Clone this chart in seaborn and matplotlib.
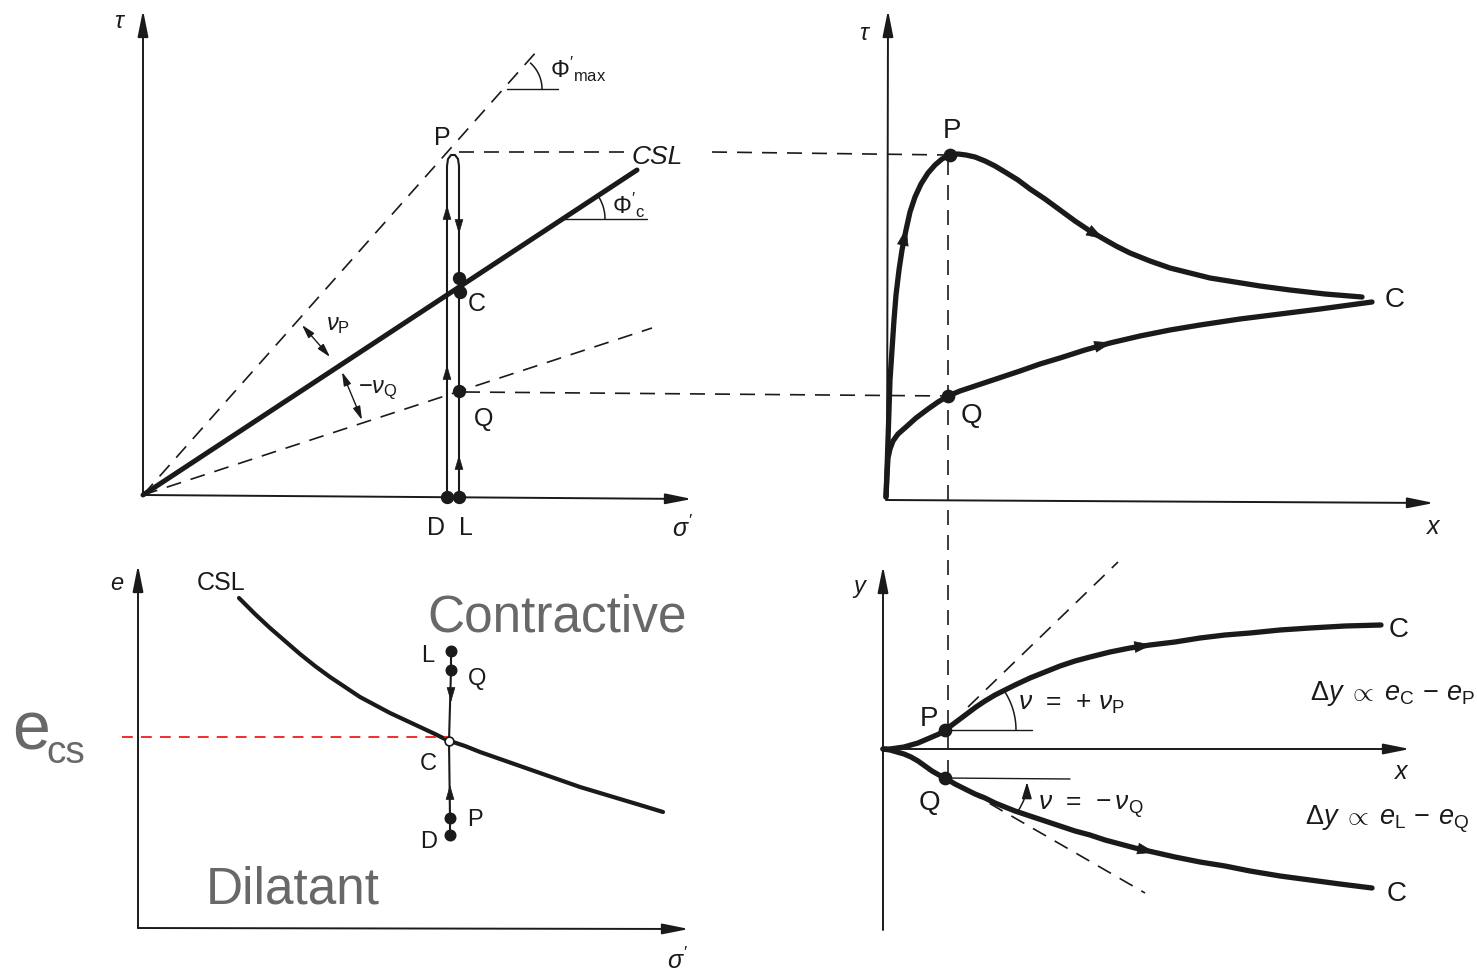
import numpy as np
import matplotlib
matplotlib.use("Agg")
import matplotlib.pyplot as plt
import seaborn as sns

sns.set_theme(style="white")
plt.rcParams["font.family"] = ["Liberation Sans", "DejaVu Sans"]
plt.rcParams["mathtext.fontset"] = "custom"
plt.rcParams["mathtext.rm"] = "Liberation Sans"
plt.rcParams["mathtext.it"] = "Liberation Sans:italic"
plt.rcParams["mathtext.bf"] = "Liberation Sans:bold"
plt.rcParams["mathtext.sf"] = "Liberation Sans"

# ---------------- diagram geometry (canvas units, y grows downward) ----------------
# tau - sigma' plane (top left)
phi_max_x = [143, 537]
phi_max_y = [495, 51]
csl_line_x = [143, 637]
csl_line_y = [495, 170]
nu_q_line_x = [143, 652]
nu_q_line_y = [495, 328]
dense_path_x = [447, 447, 448, 451, 455, 458, 459, 459]
dense_path_y = [497, 166, 159, 155, 155, 159, 166, 497]
tl_dots_x = [459, 460, 459, 447, 459]
tl_dots_y = [278, 292, 391, 497, 497]

# tau - x curves (top right)
peak_x = [886, 887, 888, 889, 890, 892, 894, 896, 899, 902, 906, 910, 915, 921, 928,
          935, 942, 950, 958, 966, 975, 985, 995, 1005, 1018, 1030, 1045, 1060, 1075,
          1090, 1102, 1116, 1130, 1150, 1170, 1190, 1210, 1235, 1260, 1290, 1325, 1362]
peak_y = [497, 470, 440, 410, 380, 350, 320, 295, 270, 250, 230, 212, 197, 184, 173,
          165, 159, 155, 154, 155, 157, 161, 166, 172, 180, 189, 199, 210, 221,
          231, 238, 246, 253, 261, 268, 273, 278, 282, 286, 290, 294, 297]
loose_x = [886, 887, 888, 890, 893, 898, 906, 916, 928, 938, 948, 960, 975, 990, 1005,
           1020, 1040, 1060, 1085, 1110, 1140, 1170, 1200, 1240, 1280, 1320, 1372]
loose_y = [497, 475, 458, 449, 441, 434, 427, 418, 409, 402, 396, 391, 386, 381, 376,
           371, 364, 358, 350, 343, 336, 330, 325, 319, 314, 309, 302]
tr_dots_x = [950, 948]
tr_dots_y = [155, 396]

# e - sigma' plane (bottom left)
csl_e_x = [239, 255, 270, 285, 300, 315, 330, 345, 360, 375, 390, 405, 420, 435, 447,
           465, 480, 500, 520, 540, 560, 580, 600, 620, 640, 663]
csl_e_y = [598, 614, 628, 641, 654, 666, 677, 687, 697, 705, 713, 720, 727, 734, 740,
           746, 752, 759, 766, 773, 780, 787, 793, 799, 805, 812]
e_path_x = [451, 451, 449, 450, 450]
e_path_y = [651, 670, 741, 818, 835]
e_cs_level = 737

# y - x curves (bottom right)
dil_x = [883, 890, 897, 904, 911, 918, 925, 932, 939, 945, 952, 960, 968, 976, 985,
         995, 1005, 1015, 1030, 1045, 1060, 1075, 1090, 1110, 1130, 1150, 1175, 1200,
         1225, 1250, 1280, 1310, 1345, 1381]
dil_y = [749, 749, 748, 747, 745, 743, 740, 737, 734, 730, 725, 719, 713, 707, 701,
         695, 690, 685, 678, 672, 666, 661, 657, 652, 648, 645, 642, 638,
         635, 633, 630, 628, 626, 625]
con_x = [883, 890, 897, 904, 911, 918, 925, 932, 939, 945, 955, 965, 975, 985, 995,
         1005, 1015, 1030, 1045, 1060, 1075, 1090, 1105, 1120, 1135, 1153, 1175, 1200,
         1225, 1250, 1280, 1310, 1340, 1372]
con_y = [749, 750, 752, 754, 757, 761, 766, 771, 775, 778, 784, 789, 794, 798, 803,
         807, 811, 816, 821, 826, 831, 835, 840, 844, 848, 852, 857, 862,
         866, 871, 876, 880, 884, 888]
br_dots_x = [945, 945]
br_dots_y = [730, 778]

W, H = 1477, 973
fig = plt.figure(figsize=(W / 100, H / 100), dpi=100)
ax = fig.add_axes([0, 0, 1, 1])

GREY = "#686868"


def draw(xs, ys, lw=1.4, color="k", dashes=None, z=2):
    sns.lineplot(x=np.asarray(xs, float), y=np.asarray(ys, float), sort=False,
                 estimator=None, ax=ax, color=color, linewidth=lw, zorder=z,
                 solid_capstyle="round", solid_joinstyle="round")
    line = ax.lines[-1]
    if dashes is not None:
        line.set_dashes(dashes)
        line.set_dash_capstyle("butt")
    return line


def dots(xs, ys, s=60, face="k"):
    sns.scatterplot(x=np.asarray(xs, float), y=np.asarray(ys, float), s=s, color=face,
                    edgecolor="k", linewidth=1.2, ax=ax, zorder=6, legend=False)


def axis_arrow(x0, y0, x1, y1):
    ax.annotate("", xy=(x1, y1), xytext=(x0, y0), zorder=3,
                arrowprops=dict(arrowstyle="-|>,head_length=1.0,head_width=0.2",
                                mutation_scale=16, lw=1.4, color="k",
                                shrinkA=0, shrinkB=0))


def point_head(x, y, ux, uy, size=10, hw=0.28, hl=0.95):
    ax.annotate("", xy=(x + ux * 2, y + uy * 2), xytext=(x - ux * 2, y - uy * 2),
                zorder=7,
                arrowprops=dict(arrowstyle=f"-|>,head_length={hl},head_width={hw}",
                                mutation_scale=size, lw=0.5, color="k",
                                shrinkA=0, shrinkB=0))


def head(xs, ys, at_y=None, at_x=None, size=13, hw=0.3, hl=0.9):
    """Arrowhead on a curve at the vertex nearest to the given x (or y)."""
    xs = np.asarray(xs, float)
    ys = np.asarray(ys, float)
    if at_x is not None:
        i = int(np.argmin(np.abs(xs - at_x)))
    else:
        i = int(np.argmin(np.abs(ys - at_y)))
    i = min(max(i, 1), len(xs) - 2)
    dx = xs[i + 1] - xs[i - 1]
    dy = ys[i + 1] - ys[i - 1]
    n = np.hypot(dx, dy)
    point_head(xs[i], ys[i], dx / n, dy / n, size=size, hw=hw, hl=hl)


def arc(cx, cy, r, a0, a1, lw=1.1):
    t = np.radians(np.linspace(a0, a1, 30))
    draw(cx + r * np.cos(t), cy - r * np.sin(t), lw=lw)


def lab(x, y, s, size=17, ha="center", color="k", **kw):
    # y is the vertical centre of capital letters
    ax.text(x, y + 0.36 * size * 100 / 72, s, fontsize=size, ha=ha, va="baseline",
            color=color, **kw)


DASH = (9, 6)

# ---------------- top left: tau vs sigma' ----------------
axis_arrow(143, 495, 143, 10)
axis_arrow(143, 495, 692, 499)
draw(phi_max_x, phi_max_y, lw=1.2, dashes=DASH)
draw(nu_q_line_x, nu_q_line_y, lw=1.2, dashes=DASH)
draw(csl_line_x, csl_line_y, lw=3.6)
draw(dense_path_x, dense_path_y, lw=1.5)
draw([459, 628], [152, 152], lw=1.2, dashes=DASH)
draw([712, 948], [152, 155], lw=1.2, dashes=DASH)
draw([465, 948], [392, 396], lw=1.2, dashes=DASH)
dots(tl_dots_x, tl_dots_y, s=70)
point_head(447, 207, 0, -1)
point_head(447, 367, 0, -1)
point_head(459, 232, 0, 1)
point_head(459, 457, 0, -1)

# friction angles
draw([507, 558], [89, 89], lw=1.0)
arc(507, 89, 35, 0, 48)
draw([563, 647], [219, 219], lw=1.0)
arc(563, 219, 42, 0, 33)
ax.annotate("", xy=(302, 325), xytext=(330, 357),
            arrowprops=dict(arrowstyle="<|-|>,head_length=0.9,head_width=0.25",
                            mutation_scale=9, lw=1.0, color="k", shrinkA=0, shrinkB=0))
ax.annotate("", xy=(342, 372), xytext=(362, 420),
            arrowprops=dict(arrowstyle="<|-|>,head_length=0.9,head_width=0.25",
                            mutation_scale=9, lw=1.0, color="k", shrinkA=0, shrinkB=0))

lab(120, 20, r"$\tau$", size=17)
lab(550, 70, r"$\Phi'_{\rm max}$", size=17, ha="left")
lab(628, 206, r"$\Phi'_{\rm c}$", size=17)
lab(442, 136, "P", size=18)
lab(632, 155, "CSL", size=19, ha="left", style="italic")
lab(477, 302, "C", size=18)
lab(484, 417, "Q", size=18)
lab(436, 526, "D", size=18)
lab(466, 526, "L", size=18)
lab(683, 528, r"$\sigma'$", size=18)
lab(326, 322, r"$\nu_{\rm P}$", size=17, ha="left")
lab(358, 385, r"$-\nu_{\rm Q}$", size=17, ha="left")

# ---------------- top right: tau vs x ----------------
axis_arrow(887, 500, 888, 10)
axis_arrow(886, 500, 1434, 503)
draw(peak_x, peak_y, lw=3.8)
draw(loose_x, loose_y, lw=3.8)
dots(tr_dots_x, tr_dots_y, s=75)
head(peak_x, peak_y, at_y=228)
head(peak_x, peak_y, at_x=1102)
head(loose_x, loose_y, at_x=1110)
draw([948, 948], [160, 777], lw=1.2, dashes=DASH)

lab(865, 31, r"$\tau$", size=17)
lab(952, 128, "P", size=20)
lab(1395, 297, "C", size=20)
lab(971, 413, "Q", size=20)
lab(1433, 525, r"$x$", size=18)

# ---------------- bottom left: e vs sigma' ----------------
axis_arrow(138, 928, 138, 565)
axis_arrow(138, 928, 689, 929)
draw(csl_e_x, csl_e_y, lw=3.0)
draw([122, 450], [e_cs_level, e_cs_level], lw=1.3, color="#ee1c1c", dashes=(6, 4.5))
draw(e_path_x, e_path_y, lw=1.5)
dots(e_path_x[:2] + e_path_x[3:], e_path_y[:2] + e_path_y[3:], s=55)
dots([449], [741], s=40, face="white")
point_head(451, 700, 0, 1)
point_head(450, 787, 0, -1)

lab(117, 581, r"$e$", size=17)
lab(221, 581, "CSL", size=18)
lab(428, 653, "L", size=17)
lab(477, 677, "Q", size=17)
lab(428, 762, "C", size=17)
lab(475, 817, "P", size=17)
lab(429, 839, "D", size=17)
lab(678, 960, r"$\sigma'$", size=18)
ax.text(12, 750, "e", fontsize=49, color=GREY, ha="left", va="baseline")
ax.text(46, 763, "cs", fontsize=28, color=GREY, ha="left", va="baseline")
ax.text(557, 632, "Contractive", fontsize=37, color=GREY, ha="center", va="baseline")
ax.text(293, 903, "Dilatant", fontsize=37, color=GREY, ha="center", va="baseline")

# ---------------- bottom right: y vs x ----------------
axis_arrow(883, 930, 883, 566)
axis_arrow(883, 749, 1410, 749)
draw(dil_x, dil_y, lw=3.8)
draw(con_x, con_y, lw=3.8)
dots(br_dots_x, br_dots_y, s=75)
head(dil_x, dil_y, at_x=1161)
head(con_x, con_y, at_x=1153)
draw([968, 1118], [707, 562], lw=1.2, dashes=DASH)
draw([968, 1145], [791, 893], lw=1.2, dashes=DASH)
draw([945, 1032], [730, 730], lw=1.0)
draw([945, 1070], [778, 779], lw=1.0)
arc(945, 730, 71, 0, 33)
ax.annotate("", xy=(1027, 782), xytext=(1018, 811),
            arrowprops=dict(arrowstyle="-|>,head_length=1.0,head_width=0.3",
                            mutation_scale=10, lw=1.1, color="k", shrinkA=0, shrinkB=0,
                            connectionstyle="arc3,rad=0.15"))

lab(860, 585, r"$y$", size=17)
lab(1401, 770, r"$x$", size=18)
lab(929, 716, "P", size=20)
lab(929, 800, "Q", size=20)
lab(1399, 627, "C", size=20)
lab(1397, 891, "C", size=20)
lab(1018, 700, r"$\nu$  =  + $\nu_{\rm P}$", size=19, ha="left")
lab(1038, 800, r"$\nu$  =  $-\,\nu_{\rm Q}$", size=19, ha="left")
lab(1310, 690, r"$\Delta y\;\propto\;e_{\rm C}\,-\,e_{\rm P}$", size=19.5, ha="left")
lab(1305, 815, r"$\Delta y\;\propto\;e_{\rm L}\,-\,e_{\rm Q}$", size=19.5, ha="left")

ax.set_xlim(0, W)
ax.set_ylim(H, 0)
ax.axis("off")
fig.savefig("out.png", dpi=100, facecolor="white")
